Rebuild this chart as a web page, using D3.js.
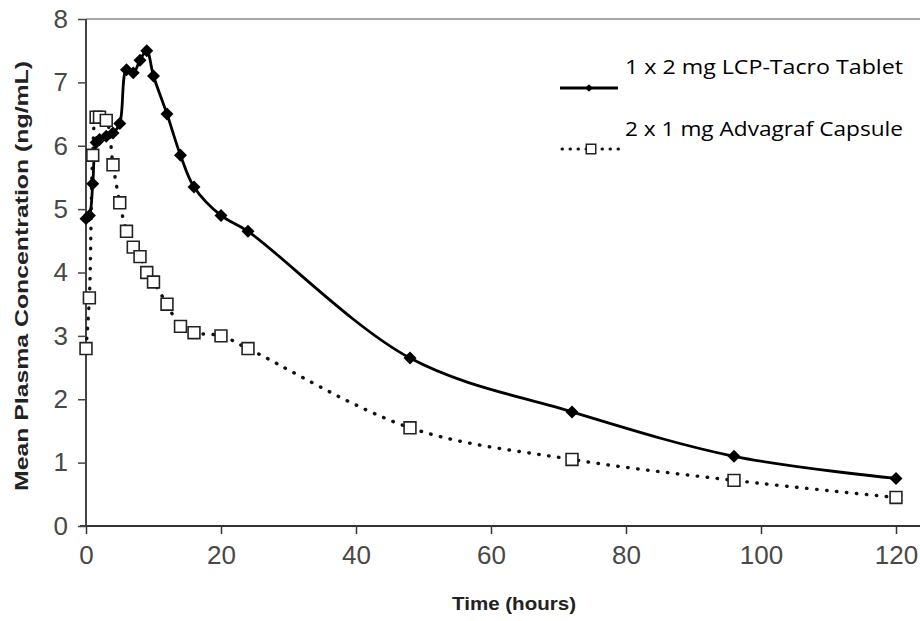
<!DOCTYPE html>
<html>
<head>
<meta charset="utf-8">
<script src="https://cdn.jsdelivr.net/npm/d3@7"></script>
<style>
  html, body { margin: 0; padding: 0; background: #fff; }
  svg { display: block; }
</style>
</head>
<body>
<div id="chart"></div>
<script>
// Datos
const timeHours = [0, 0.5, 1, 1.5, 2, 3, 4, 5, 6, 7, 8, 9, 10, 12, 14, 16, 20, 24, 48, 72, 96, 120];
const lcpTacro = [4.85, 4.9, 5.4, 6.05, 6.1, 6.15, 6.2, 6.35, 7.2, 7.15, 7.35, 7.5, 7.1, 6.5, 5.85, 5.35, 4.9, 4.65, 2.65, 1.8, 1.1, 0.75];
const advagraf = [2.8, 3.6, 5.85, 6.45, 6.45, 6.4, 5.7, 5.1, 4.65, 4.4, 4.25, 4.0, 3.85, 3.5, 3.15, 3.05, 3.0, 2.8, 1.55, 1.05, 0.72, 0.45];
const xTicks = [0, 20, 40, 60, 80, 100, 120];
const yTicks = [0, 1, 2, 3, 4, 5, 6, 7, 8];
const seriesNames = ["1 x 2 mg LCP-Tacro Tablet", "2 x 1 mg Advagraf Capsule"];

const width = 920, height = 621;
const svg = d3.select("#chart").append("svg")
    .attr("width", width)
    .attr("height", height);

const x = d3.scaleLinear().domain([0, 120]).range([86, 896]);
const y = d3.scaleLinear().domain([0, 8]).range([526, 19]);

// borde superior gris
svg.append("line")
    .attr("x1", x(0)).attr("x2", width)
    .attr("y1", y(8)).attr("y2", y(8))
    .attr("stroke", "#a8a8a8").attr("stroke-width", 2);

// eje X
const xAxis = svg.append("g")
    .attr("transform", `translate(0,${y(0)})`)
    .call(d3.axisBottom(x).tickValues(xTicks).tickSize(8).tickPadding(12).tickSizeOuter(0));
xAxis.select(".domain").remove();
xAxis.append("line")
    .attr("x1", 80).attr("x2", width).attr("y1", 0).attr("y2", 0)
    .attr("stroke", "#333").attr("stroke-width", 2);
xAxis.selectAll(".tick line").attr("stroke", "#333").attr("stroke-width", 1.5);
xAxis.selectAll(".tick text")
    .attr("fill", "#484848")
    .style("font-family", "'Liberation Sans', Arial, sans-serif")
    .style("font-size", "26px");

// eje Y
const yAxis = svg.append("g")
    .attr("transform", `translate(${x(0)},0)`)
    .call(d3.axisLeft(y).tickValues(yTicks).tickSize(8).tickPadding(10).tickSizeOuter(0));
yAxis.select(".domain").remove();
yAxis.append("line")
    .attr("x1", 0).attr("x2", 0).attr("y1", y(8)).attr("y2", y(0))
    .attr("stroke", "#444").attr("stroke-width", 2);
yAxis.selectAll(".tick line").attr("stroke", "#444").attr("stroke-width", 1.5);
yAxis.selectAll(".tick text")
    .attr("fill", "#484848")
    .style("font-family", "'Liberation Sans', Arial, sans-serif")
    .style("font-size", "26px");

// titulos de ejes
svg.append("text")
    .attr("x", 514).attr("y", 610)
    .attr("text-anchor", "middle")
    .attr("textLength", 124).attr("lengthAdjust", "spacingAndGlyphs")
    .style("font-family", "'Liberation Sans', Arial, sans-serif")
    .style("font-weight", "bold").style("font-size", "18px")
    .attr("fill", "#222")
    .text("Time (hours)");

svg.append("text")
    .attr("transform", "translate(28,276) rotate(-90)")
    .attr("text-anchor", "middle")
    .attr("textLength", 430).attr("lengthAdjust", "spacingAndGlyphs")
    .style("font-family", "'Liberation Sans', Arial, sans-serif")
    .style("font-weight", "bold").style("font-size", "18px")
    .attr("fill", "#222")
    .text("Mean Plasma Concentration  (ng/mL)");

const tacroPts = timeHours.map((t, i) => [t, lcpTacro[i]]);
const advaPts = timeHours.map((t, i) => [t, advagraf[i]]);

// suavizado tipo Excel
const line = d3.line()
    .x(d => x(d[0]))
    .y(d => y(d[1]))
    .curve(d3.curveCatmullRom.alpha(0.5));

// Advagraf: linea punteada
svg.append("path")
    .datum(advaPts)
    .attr("d", line)
    .attr("fill", "none")
    .attr("stroke", "#111")
    .attr("stroke-width", 3.4)
    .attr("stroke-linecap", "round")
    .attr("stroke-dasharray", "0.5 9.5");

// LCP-Tacro: linea continua
svg.append("path")
    .datum(tacroPts)
    .attr("d", line)
    .attr("fill", "none")
    .attr("stroke", "#000")
    .attr("stroke-width", 2.8);

const diamond = d3.symbol().type(d3.symbolSquare).size(84);
const square = d3.symbol().type(d3.symbolSquare).size(140);

svg.selectAll(".adva")
    .data(advaPts)
    .enter().append("path")
    .attr("class", "adva")
    .attr("d", square)
    .attr("transform", d => `translate(${x(d[0])},${y(d[1])})`)
    .attr("fill", "#fff")
    .attr("stroke", "#222")
    .attr("stroke-width", 1.6);

svg.selectAll(".tacro")
    .data(tacroPts)
    .enter().append("path")
    .attr("class", "tacro")
    .attr("d", diamond)
    .attr("transform", d => `translate(${x(d[0])},${y(d[1])}) rotate(45)`)
    .attr("fill", "#000");

// leyenda
const legendFont = "'Open Sans', 'Noto Sans', sans-serif";
svg.append("line")
    .attr("x1", 560).attr("x2", 618).attr("y1", 88).attr("y2", 88)
    .attr("stroke", "#000").attr("stroke-width", 3);
svg.append("path")
    .attr("d", d3.symbol().type(d3.symbolSquare).size(30))
    .attr("transform", "translate(589,88) rotate(45)")
    .attr("fill", "#000");
svg.append("text")
    .attr("x", 625).attr("y", 74)
    .attr("textLength", 278).attr("lengthAdjust", "spacingAndGlyphs")
    .style("font-family", legendFont).style("font-size", "20px")
    .attr("fill", "#000")
    .text(seriesNames[0]);

svg.append("line")
    .attr("x1", 562).attr("x2", 620).attr("y1", 149).attr("y2", 149)
    .attr("stroke", "#111").attr("stroke-width", 3)
    .attr("stroke-linecap", "round")
    .attr("stroke-dasharray", "0.5 7.5");
svg.append("path")
    .attr("d", d3.symbol().type(d3.symbolSquare).size(90))
    .attr("transform", "translate(591,149)")
    .attr("fill", "#fff").attr("stroke", "#222").attr("stroke-width", 1.5);
svg.append("text")
    .attr("x", 625).attr("y", 136)
    .attr("textLength", 278).attr("lengthAdjust", "spacingAndGlyphs")
    .style("font-family", legendFont).style("font-size", "20px")
    .attr("fill", "#000")
    .text(seriesNames[1]);
</script>
</body>
</html>
